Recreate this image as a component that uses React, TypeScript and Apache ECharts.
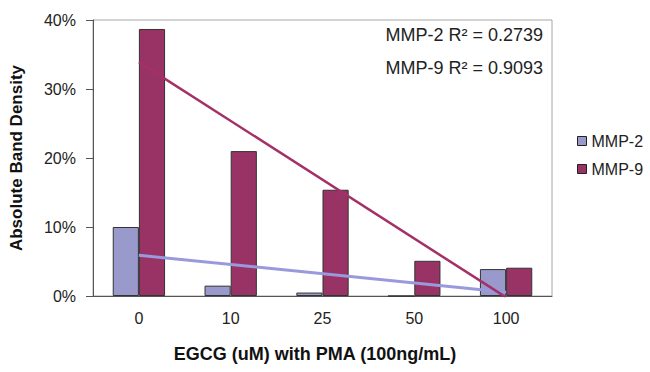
import React, { useEffect, useRef } from "react";
import * as echarts from "echarts";

const categories = ["0", "10", "25", "50", "100"];
const mmp2 = [10.0, 1.5, 0.5, 0, 3.9];
const mmp9 = [38.7, 21.0, 15.4, 5.1, 4.1];
// trendline endpoints (first and last category)
const mmp2Trend = [5.9, null, null, null, 0.55];
const mmp9Trend = [33.9, null, null, null, -0.2];
const yTicks = [0, 10, 20, 30, 40];
const rSquared = ["MMP-2 R² = 0.2739", "MMP-9 R² = 0.9093"];

const FONT = "Liberation Sans, Arial, sans-serif";

export default function App() {
  const ref = useRef<HTMLDivElement>(null);
  useEffect(() => {
    document.body.style.margin = "0";
    if (!ref.current) return;
    const chart = echarts.init(ref.current, undefined, { renderer: "svg" });
    chart.setOption({
      animation: false,
      backgroundColor: "#ffffff",
      grid: {
        left: 87,
        top: 20,
        right: 98,
        bottom: 76,
        show: true,
        borderColor: "#a6a6a6",
        borderWidth: 1,
      },
      legend: {
        orient: "vertical",
        left: 577,
        top: 133,
        padding: 0,
        itemWidth: 9,
        itemHeight: 9,
        itemGap: 12,
        textStyle: { fontFamily: FONT, fontSize: 16, color: "#222", overflow: "none" },
        data: [
          { name: "MMP-2", icon: "rect", itemStyle: { color: "#9999cc", borderColor: "#222", borderWidth: 1 } },
          { name: "MMP-9", icon: "rect", itemStyle: { color: "#993366", borderColor: "#222", borderWidth: 1 } },
        ],
      },
      xAxis: {
        type: "category",
        data: categories,
        axisLine: { lineStyle: { color: "#555", width: 1 } },
        axisTick: { show: false },
        axisLabel: { fontFamily: FONT, fontSize: 16, color: "#222", margin: 14 },
      },
      yAxis: {
        type: "value",
        min: yTicks[0],
        max: yTicks[yTicks.length - 1],
        interval: 10,
        name: "Absolute Band Density",
        nameLocation: "middle",
        nameGap: 68,
        nameTextStyle: { fontFamily: FONT, fontSize: 17, fontWeight: "bold", color: "#111" },
        axisLine: { show: true, lineStyle: { color: "#555", width: 1 } },
        axisTick: { show: true, length: 7, lineStyle: { color: "#555" } },
        splitLine: { show: false },
        axisLabel: {
          fontFamily: FONT,
          fontSize: 16,
          color: "#222",
          margin: 17,
          formatter: (v: number) => v + "%",
        },
      },
      series: [
        {
          name: "MMP-2",
          type: "bar",
          data: mmp2,
          barGap: "0%",
          barCategoryGap: "43%",
          itemStyle: { color: "#9999cc", borderColor: "#333", borderWidth: 1 },
        },
        {
          name: "MMP-9",
          type: "bar",
          data: mmp9,
          barGap: "0%",
          barCategoryGap: "43%",
          itemStyle: { color: "#993366", borderColor: "#333", borderWidth: 1 },
        },
        {
          name: "MMP-2 trend",
          type: "line",
          data: mmp2Trend,
          connectNulls: true,
          symbol: "none",
          clip: true,
          lineStyle: { color: "#9999dd", width: 3 },
          z: 5,
        },
        {
          name: "MMP-9 trend",
          type: "line",
          data: mmp9Trend,
          connectNulls: true,
          symbol: "none",
          clip: true,
          lineStyle: { color: "#a33068", width: 2.5 },
          z: 5,
        },
      ],
      graphic: [
        {
          type: "text",
          right: 107,
          top: 26,
          style: { text: rSquared[0], font: "18px " + FONT, fill: "#222", textAlign: "right" },
        },
        {
          type: "text",
          right: 107,
          top: 59,
          style: { text: rSquared[1], font: "18px " + FONT, fill: "#222", textAlign: "right" },
        },
        {
          type: "text",
          x: 315,
          y: 345,
          style: {
            text: "EGCG (uM) with PMA (100ng/mL)",
            font: "bold 18px " + FONT,
            fill: "#111",
            textAlign: "center",
          },
        },
      ],
    });
    return () => chart.dispose();
  }, []);
  return <div ref={ref} style={{ width: 650, height: 372 }} />;
}
